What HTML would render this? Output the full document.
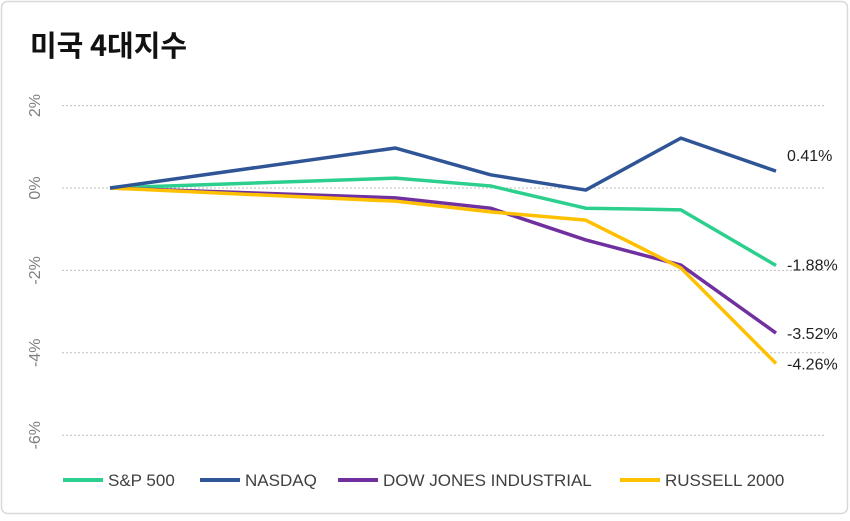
<!DOCTYPE html>
<html><head><meta charset="utf-8">
<style>
html,body{margin:0;padding:0;background:#fff;}
body{width:850px;height:516px;overflow:hidden;font-family:"Liberation Sans","Noto Sans CJK KR",sans-serif;}
</style></head>
<body>
<svg id="chart" width="850" height="516" xmlns="http://www.w3.org/2000/svg">
<rect x="1.5" y="1.5" width="846" height="512" rx="6" fill="#fff" stroke="#d9d9d9" stroke-width="1.5"/>
<text x="30" y="56" font-size="29" font-weight="bold" fill="#111" font-family="'Noto Sans CJK KR','Liberation Sans',sans-serif">미국 4대지수</text>
<g id="grid"></g><g id="ylabels"></g><g id="lines"></g><g id="endlabels"></g><g id="legend"></g>
</svg>
<script>
const xValues = [0, 3, 4, 5, 6, 7];
const yTicks = [2, 0, -2, -4, -6];
const yTickLabels = ["2%", "0%", "-2%", "-4%", "-6%"];
const seriesNames = ["S&P 500", "NASDAQ", "DOW JONES INDUSTRIAL", "RUSSELL 2000"];
const sp500 = [0, 0.24, 0.05, -0.49, -0.53, -1.88];
const nasdaq = [0, 0.97, 0.32, -0.05, 1.21, 0.41];
const dow = [0, -0.24, -0.49, -1.26, -1.87, -3.52];
const russell = [0, -0.32, -0.58, -0.78, -1.94, -4.26];
const endLabels = ["-1.88%", "0.41%", "-3.52%", "-4.26%"];

const NS = "http://www.w3.org/2000/svg";
const colors = ["#2ccf8d", "#2f5597", "#7030a0", "#ffc000"];
const seriesData = [sp500, nasdaq, dow, russell];
function xScale(v){ return 110 + (v - 0) * (776 - 110) / 7; }
function yScale(v){ return 188 - v * 41.2; }
function mk(tag, attrs, parent){ const e = document.createElementNS(NS, tag); for (const k in attrs) e.setAttribute(k, attrs[k]); parent.appendChild(e); return e; }

const grid = document.getElementById("grid");
const yl = document.getElementById("ylabels");
yTicks.forEach((t, i) => {
  const l = mk("line", {x1: 62, x2: 824, y1: yScale(t), y2: yScale(t), stroke: "#bfbfbf", "stroke-dasharray": "2,2", "stroke-width": 1}, grid);
  
  
  const y = yScale(t);
  const tx = mk("text", {x: 0, y: 0, transform: `translate(40,${y}) rotate(-90)`, "text-anchor": "middle", "font-size": 16, fill: "#7f7f7f"}, yl);
  tx.textContent = yTickLabels[i];
  
  
});

const lines = document.getElementById("lines");
const el = document.getElementById("endlabels");
const order = [0, 2, 3, 1];
order.forEach(s => {
  const d = seriesData[s];
  const pts = d.map((v, i) => xScale(xValues[i]) + "," + yScale(v)).join(" ");
  const p = mk("polyline", {points: pts, fill: "none", stroke: colors[s], "stroke-width": 3.5, "stroke-linejoin": "round"}, lines);
  
  
});
const labelOffsets = [5, -10, 6, 6];
seriesData.forEach((d, s) => {
  const last = d[d.length - 1];
  const t = mk("text", {x: 787, y: yScale(last) + labelOffsets[s], "font-size": 16, fill: "#222"}, el);
  t.textContent = endLabels[s];
  
  
});

const lg = document.getElementById("legend");
const lx = [63, 200, 338, 620];
seriesNames.forEach((n, s) => {
  const g = mk("g", {}, lg);
  
  
  mk("line", {x1: lx[s], x2: lx[s] + 40, y1: 480, y2: 480, stroke: colors[s], "stroke-width": 4}, g);
  const t = mk("text", {x: lx[s] + 45, y: 486, "font-size": 17, fill: "#404040"}, g);
  t.textContent = n;
});
</script>
</body></html>
